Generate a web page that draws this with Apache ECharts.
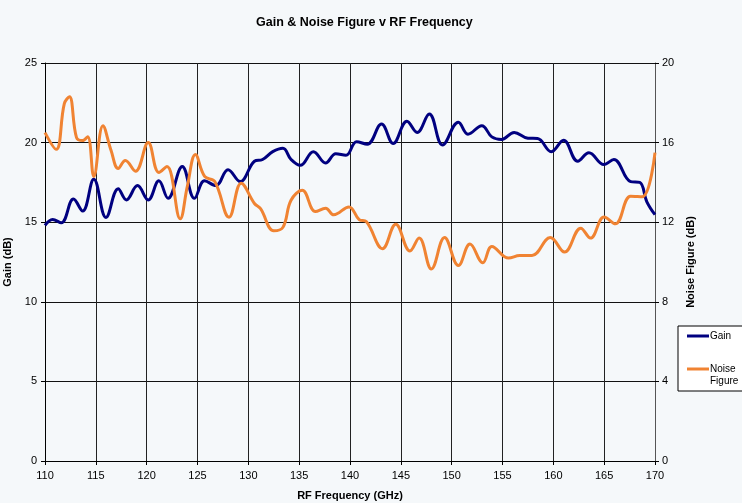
<!DOCTYPE html>
<html>
<head>
<meta charset="utf-8">
<script src="https://cdn.jsdelivr.net/npm/echarts@6/dist/echarts.min.js"></script>
<style>
  html, body { margin: 0; padding: 0; background: #f5f8fa; }
  #chart { width: 742px; height: 503px; }
</style>
</head>
<body>
<div id="chart"></div>
<script>
// Gain (dB), left axis
const gainFreq = [110.0, 110.75, 111.6, 112.8, 113.7, 114.8, 116.0, 117.2, 118.0, 119.1, 120.15, 121.2, 122.1, 123.5, 124.7, 125.7, 126.8, 128.0, 129.2, 130.6, 131.4, 132.4, 133.4, 134.2, 135.1, 136.4, 137.6, 138.6, 139.6, 140.65, 141.7, 143.1, 144.25, 145.6, 146.6, 147.8, 149.1, 150.66, 151.6, 152.96, 153.95, 154.9, 156.15, 157.5, 158.45, 159.8, 161.0, 162.4, 163.5, 164.97, 165.95, 167.6, 168.5, 169.2, 170.0];
const gainVals = [14.8, 15.17, 14.96, 16.45, 15.7, 17.7, 15.3, 17.1, 16.4, 17.3, 16.4, 17.6, 16.5, 18.5, 16.5, 17.6, 17.3, 18.3, 17.55, 18.83, 18.94, 19.43, 19.64, 18.94, 18.57, 19.43, 18.72, 19.3, 19.2, 20.06, 19.9, 21.17, 19.94, 21.34, 20.64, 21.8, 19.85, 21.28, 20.53, 21.06, 20.36, 20.2, 20.64, 20.28, 20.26, 19.43, 20.15, 18.83, 19.36, 18.62, 18.94, 17.55, 17.5, 16.28, 15.47];

// Noise Figure (dB), right axis
const nfFreq = [110.0, 111.1, 111.9, 112.4, 113.1, 113.7, 114.2, 114.8, 115.7, 116.5, 117.2, 117.9, 118.9, 120.15, 121.2, 122.0, 123.3, 124.0, 124.8, 125.7, 126.7, 128.1, 129.3, 130.6, 131.2, 132.5, 133.4, 134.2, 135.3, 136.6, 137.6, 138.4, 139.9, 140.9, 141.6, 143.2, 144.5, 145.9, 146.8, 148.0, 149.3, 150.66, 151.8, 153.06, 153.95, 155.6, 156.7, 157.9, 159.7, 161.1, 162.7, 163.65, 165.0, 166.1, 167.6, 168.75, 170.0];
const nfVals = [16.5, 15.66, 17.96, 18.3, 16.25, 16.1, 16.3, 14.3, 16.85, 15.6, 14.7, 15.1, 14.56, 16.0, 14.5, 14.8, 12.17, 13.8, 15.4, 14.3, 14.04, 12.25, 13.96, 12.94, 12.68, 11.57, 11.74, 13.1, 13.6, 12.54, 12.7, 12.37, 12.77, 12.13, 12.03, 10.67, 11.9, 10.55, 11.2, 9.65, 11.23, 9.82, 10.9, 9.96, 10.78, 10.2, 10.33, 10.33, 11.23, 10.5, 11.7, 11.2, 12.26, 11.92, 13.3, 13.28, 15.5];

const chart = echarts.init(document.getElementById('chart'));
const font = 'Liberation Sans, Arial, sans-serif';

chart.setOption({
    backgroundColor: '#f5f8fa',
    animation: false,
    textStyle: { fontFamily: font },
    title: {
        text: 'Gain & Noise Figure v RF Frequency',
        left: 251,
        top: 11,
        textStyle: { fontSize: 12.5, fontWeight: 'bold', color: '#000', fontFamily: font }
    },
    legend: {
        orient: 'vertical',
        left: 678,
        top: 326,
        backgroundColor: '#fff',
        borderColor: '#000',
        borderWidth: 1,
        borderRadius: 0,
        padding: [4, 10, 4, 9],
        itemGap: 9,
        itemWidth: 22,
        itemHeight: 3,
        icon: 'rect',
        // first legend line sits level with the sample line
        formatter: name => name === 'Noise Figure' ? '\nNoise\nFigure' : name,
        textStyle: { fontSize: 10, color: '#000', lineHeight: 12, padding: [0, 0, 0, -4] },
        data: ['Gain', 'Noise Figure']
    },
    grid: { left: 45, right: 87, top: 63, bottom: 42, outerBoundsMode: 'none' },
    xAxis: {
        type: 'value',
        min: 110,
        max: 170,
        interval: 5,
        name: 'RF Frequency (GHz)',
        nameLocation: 'middle',
        nameGap: 29,
        nameTextStyle: { fontSize: 11, fontWeight: 'bold', color: '#000' },
        axisLine: { lineStyle: { color: '#000', width: 1 } },
        axisTick: { show: true, length: 4, lineStyle: { color: '#000' } },
        axisLabel: { fontSize: 11, color: '#000', margin: 9 },
        splitLine: { show: true, lineStyle: { color: '#222', width: 1 } }
    },
    yAxis: [
        {
            type: 'value',
            min: 0,
            max: 25,
            interval: 5,
            name: 'Gain (dB)',
            nameLocation: 'middle',
            nameGap: 21,
            nameTextStyle: { fontSize: 11, fontWeight: 'bold', color: '#000' },
            axisLine: { show: true, lineStyle: { color: '#000' } },
            axisTick: { show: true, length: 4, lineStyle: { color: '#000' } },
            axisLabel: { fontSize: 11, color: '#000', margin: 8 },
            splitLine: { show: true, lineStyle: { color: '#111', width: 1 } }
        },
        {
            type: 'value',
            min: 0,
            max: 20,
            interval: 4,
            position: 'right',
            name: 'Noise Figure (dB)',
            nameLocation: 'middle',
            nameGap: 20,
            nameRotate: 90,
            nameTextStyle: { fontSize: 11, fontWeight: 'bold', color: '#000' },
            axisLine: { show: true, lineStyle: { color: '#555' } },
            axisTick: { show: true, length: 4, lineStyle: { color: '#000' } },
            axisLabel: { fontSize: 11, color: '#000', margin: 7 },
            splitLine: { show: false }
        }
    ],
    series: [
        {
            name: 'Gain',
            type: 'line',
            yAxisIndex: 0,
            smooth: 0.4,
            showSymbol: false,
            symbol: 'none',
            color: '#000080',
            lineStyle: { color: '#000080', width: 3 },
            data: gainFreq.map((f, i) => [f, gainVals[i]])
        },
        {
            name: 'Noise Figure',
            type: 'line',
            yAxisIndex: 1,
            smooth: 0.4,
            showSymbol: false,
            symbol: 'none',
            color: '#f08332',
            lineStyle: { color: '#f08332', width: 3 },
            data: nfFreq.map((f, i) => [f, nfVals[i]])
        }
    ]
});
</script>
</body>
</html>
